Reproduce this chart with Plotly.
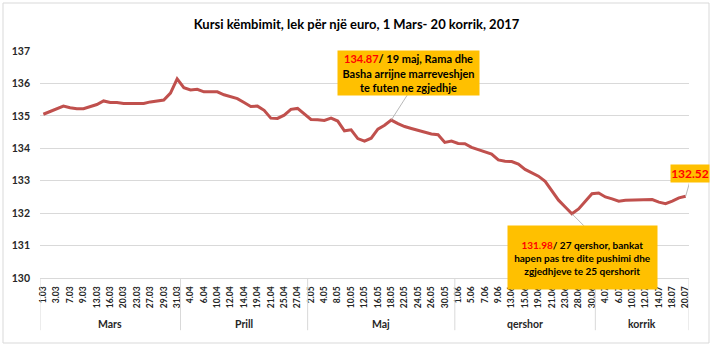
import plotly.graph_objects as go

# ---------------- DATA ----------------
mars = ["1.03","2.03","3.03","6.03","7.03","8.03","9.03","10.03","13.03","15.03","16.03",
        "17.03","20.03","21.03","23.03","24.03","27.03","28.03","29.03","30.03","31.03"]
prill = ["3.04","4.04","5.04","6.04","7.04","10.04","11.04","12.04","13.04","14.04","18.04",
         "19.04","20.04","21.04","24.04","25.04","26.04","27.04","28.04"]
maj = ["2.05","3.05","4.05","5.05","8.05","9.05","10.05","11.05","12.05","15.05","16.05",
       "17.05","18.05","19.05","22.05","23.05","24.05","25.05","26.05","29.05","30.05","31.05"]
qershor = ["1.06","2.06","5.06","6.06","7.06","8.06","9.06","12.06","13.06","14.06","15.06",
           "16.06","19.06","20.06","21.06","22.06","23.06","27.06","28.06","29.06","30.06"]
korrik = ["3.07","4.07","5.07","6.07","7.07","10.07","11.07","12.07","13.07","14.07","17.07",
          "18.07","19.07","20.07"]
month_names = ["Mars", "Prill", "Maj", "qershor", "korrik"]
month_days = [mars, prill, maj, qershor, korrik]

kursi = [135.05, 135.14, 135.22, 135.30, 135.25, 135.22, 135.22, 135.28, 135.35, 135.46,
         135.41, 135.41, 135.38, 135.38, 135.38, 135.38, 135.43, 135.46, 135.49, 135.70,
         136.14, 135.87, 135.80, 135.82, 135.74, 135.74, 135.74, 135.65, 135.59, 135.53,
         135.41, 135.29, 135.30, 135.17, 134.93, 134.92, 135.02, 135.20, 135.23, 135.05,
         134.89, 134.88, 134.86, 134.93, 134.84, 134.54, 134.57, 134.30, 134.22, 134.31,
         134.59, 134.71, 134.87, 134.76, 134.67, 134.61, 134.55, 134.51, 134.44, 134.42,
         134.18, 134.22, 134.15, 134.14, 134.03, 133.96, 133.90, 133.82, 133.64, 133.60,
         133.59, 133.51, 133.35, 133.25, 133.14, 132.98, 132.67, 132.40, 132.19, 131.98,
         132.13, 132.37, 132.60, 132.62, 132.50, 132.44, 132.37, 132.40, 132.40, 132.40,
         132.42, 132.42, 132.34, 132.29, 132.37, 132.47, 132.52]

y_ticks = [130, 131, 132, 133, 134, 135, 136, 137]
title = "Kursi këmbimit, lek për një euro, 1 Mars- 20 korrik, 2017"

# ---------------- BUILD ----------------
dates = [d for m in month_days for d in m]
n = len(dates)
xs = list(range(n))
FONT = "Lato"
DARK = "#262626"
GRID = "#D9D9D9"

fig = go.Figure()
fig.add_trace(go.Scatter(x=xs, y=kursi, mode="lines",
                         line=dict(color="#C0504D", width=3), hoverinfo="skip"))

shapes = []
annotations = []

# month group dividers and labels
start = 0
bounds = [-0.5]
for name, days in zip(month_names, month_days):
    end = start + len(days) - 1
    bounds.append(end + 0.5)
    annotations.append(dict(x=(start + end) / 2, y=-0.203, xref="x", yref="paper",
                            text=name, showarrow=False, yanchor="middle",
                            font=dict(family=FONT, size=10.5, color=DARK, weight="bold")))
    start = end + 1
for b in bounds:
    shapes.append(dict(type="line", xref="x", yref="paper", x0=b, x1=b, y0=0, y1=-0.23,
                       line=dict(color=GRID, width=1)))

# callout boxes
def callout(idx, dx_box, dy_box, w, h, text, size, lx, ly):
    annotations.append(dict(x=idx, y=kursi[idx], xref="x", yref="y", text=text,
                            showarrow=False, xshift=dx_box, yshift=dy_box,
                            width=w, height=h, bgcolor="#FFC000", borderpad=0,
                            align="center", valign="middle",
                            font=dict(family=FONT, size=size, color="black", weight="bold")))
    shapes.append(dict(type="line", xref="x", yref="y", xsizemode="pixel", ysizemode="pixel",
                       xanchor=idx, yanchor=kursi[idx], x0=0, y0=0, x1=lx, y1=ly,
                       line=dict(color="#A6A6A6", width=0.8)))

i_max = 52
i_min = 79
i_last = n - 1
callout(i_max, 17, 47, 141, 44,
        f"<span style='color:red'>{kursi[i_max]:.2f}</span>/ 19 maj, Rama dhe<br>"
        "Basha arrijne marreveshjen<br>te futen ne zgjedhje", 11, 16, 25)
callout(i_min, 11, -44, 149, 63,
        f"<span style='color:red'>{kursi[i_min]:.2f}</span>/ 27 qershor, bankat<br>"
        "hapen pas tre dite pushimi dhe<br>zgjedhjeve te 25 qershorit", 10, 12, -12)
callout(i_last, 4, 23, 38, 17,
        f"<span style='color:red'>{kursi[i_last]:.2f}</span>", 12, 4, 14)

# chart-area border (spreadsheet look)
pw = 649.0
ph = 227.0
def px2x(px):
    return (px - 40) / pw
def py2y(py):
    return 1 - (py - 51) / ph
shapes.append(dict(type="rect", xref="paper", yref="paper",
                   x0=px2x(3), x1=px2x(709), y0=py2y(3), y1=py2y(343),
                   line=dict(color=GRID, width=1), fillcolor="rgba(0,0,0,0)", layer="below"))

fig.update_layout(
    width=713, height=350,
    margin=dict(l=40, r=24, t=51, b=72),
    paper_bgcolor="white", plot_bgcolor="white",
    showlegend=False,
    title=dict(text=title, x=0.5, xref="container", xanchor="center",
               y=1 - 24 / 350, yref="container", yanchor="middle",
               font=dict(family=FONT, size=13, color="black", weight="bold")),
    xaxis=dict(range=[-0.5, n - 0.5], tickmode="array",
               tickvals=xs[::2], ticktext=dates[::2], tickangle=-90,
               tickfont=dict(family=FONT, size=8.5, color=DARK, weight="bold"),
               showgrid=False, zeroline=False, showline=True, linecolor=GRID, linewidth=1,
               ticks="", ticklabelstandoff=4, fixedrange=True),
    yaxis=dict(range=[130, 137], tickmode="array", tickvals=y_ticks,
               ticktext=[str(v) for v in y_ticks],
               tickfont=dict(family=FONT, size=10.5, color=DARK, weight="bold"),
               showgrid=True, gridcolor=GRID, gridwidth=1, zeroline=False, showline=False,
               ticks="", ticklabelstandoff=9, fixedrange=True),
    shapes=shapes,
    annotations=annotations,
)

fig.write_html("out.html")
